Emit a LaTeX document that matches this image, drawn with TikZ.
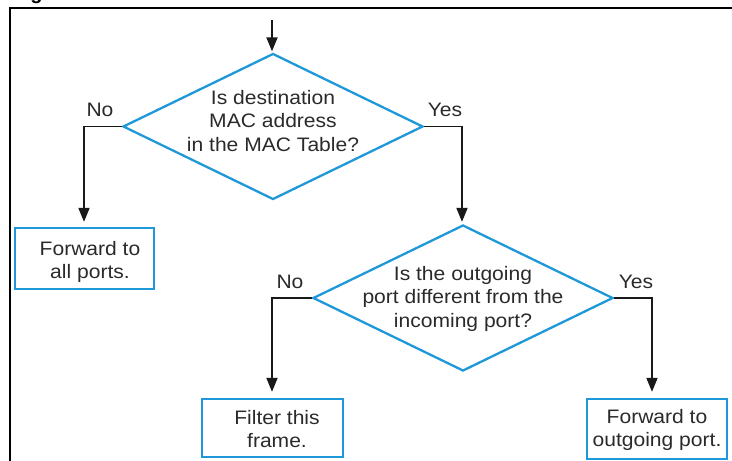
\documentclass[tikz,border=0pt]{standalone}
\usepackage{fontspec}
\setmainfont{Liberation Sans}
\newfontfamily\lblfont[FakeStretch=1.08]{Liberation Sans}
\usetikzlibrary{arrows.meta,shapes.geometric}
\definecolor{dblue}{HTML}{1E98D8}
\definecolor{txtgray}{HTML}{2A2A2A}
\begin{document}
\begin{tikzpicture}[x=1pt,y=-1pt,
  every node/.style={text=txtgray},
  lbl/.style={font=\lblfont\fontsize{19.5}{23.5}\selectfont, inner sep=0pt, align=center},
  decision/.style={diamond, draw=dblue, line width=2.3pt, minimum width=300pt, minimum height=146pt, inner sep=0pt},
  actbox/.style={rectangle, draw=dblue, line width=2.3pt, inner sep=0pt},
  conn/.style={draw=black!90, line width=1.8pt},
  arr/.style={conn, -{Triangle[length=14pt,width=11pt]}},
  frame/.style={draw=black, line width=2.2pt}]
\useasboundingbox (0,0) rectangle (732,461);
\begin{scope}
  \clip (0,0) rectangle (732,461);
  \node[anchor=base west, inner sep=0pt, font=\fontsize{20}{24}\selectfont\bfseries, text=black] (fig) at (12.4,-0.5) {Figure};
\end{scope}
% frame
\draw[frame] (9,8) -- (732,8);
\draw[frame] (10,7) -- (10,461);

% decisions
\node[decision] (d1) at (273,126.5) {};
\node[lbl] (d1t) at (273,121) {Is destination\\MAC address\\in the MAC Table?};
\node[decision] (d2) at (463,298) {};
\node[lbl] (d2t) at (463,298.5) {Is the outgoing\\port different from the\\incoming port?};

% boxes
\node[actbox, minimum width=139pt, minimum height=61pt] (b1) at (84.5,258.5) {};
\node[lbl] (b1t) at (90,262) {Forward to\\all ports.};
\node[actbox, minimum width=141pt, minimum height=58pt] (b3) at (272.5,428) {};
\node[lbl] (b3t) at (277,429) {Filter this\\frame.};
\node[actbox, minimum width=140pt, minimum height=60pt] (b4) at (657,429) {};
\node[lbl] (b4t) at (657,430) {Forward to\\outgoing port.};

% labels
\node[lbl] (n1) at (100,110) {No};
\node[lbl] (y1) at (445,110) {Yes};
\node[lbl] (n2) at (290,282) {No};
\node[lbl] (y2) at (636,282) {Yes};

% connectors
\coordinate (top) at (272,20);
\coordinate (c1) at (84,126.5);
\coordinate (c2) at (462,126.5);
\coordinate (c3) at (272,298);
\coordinate (c4) at (652,298);
\draw[arr, shorten >=1pt] (top) -- (top |- d1.north);
\draw[arr, shorten >=5pt] (d1.west) -- (c1) -- (c1 |- b1.north);
\draw[arr, shorten >=2pt] (d1.east) -- (c2) -- (c2 |- d2.north);
\draw[arr, shorten >=6pt] (d2.west) -- (c3) -- (c3 |- b3.north);
\draw[arr, shorten >=6pt] (d2.east) -- (c4) -- (c4 |- b4.north);
\end{tikzpicture}
\end{document}
